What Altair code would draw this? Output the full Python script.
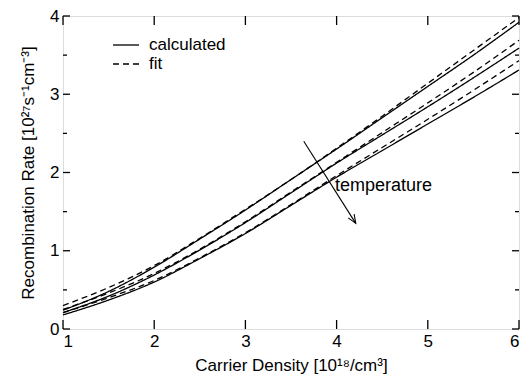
import altair as alt
import pandas as pd

# ---- data ----
x_vals = [1.0, 1.5, 2.0, 2.5, 3.0, 3.5, 4.0, 4.5, 5.0, 5.5, 6.0]
calc_low_t = [0.24, 0.48, 0.79, 1.15, 1.52, 1.91, 2.30, 2.70, 3.10, 3.50, 3.92]
calc_mid_t = [0.21, 0.42, 0.69, 1.01, 1.36, 1.74, 2.12, 2.48, 2.84, 3.21, 3.59]
calc_high_t = [0.18, 0.37, 0.60, 0.90, 1.22, 1.58, 1.94, 2.28, 2.62, 2.96, 3.31]
fit_low_t = [0.30, 0.53, 0.81, 1.16, 1.53, 1.91, 2.31, 2.72, 3.14, 3.56, 3.98]
fit_mid_t = [0.25, 0.46, 0.71, 1.02, 1.37, 1.75, 2.13, 2.51, 2.89, 3.28, 3.69]
fit_high_t = [0.21, 0.40, 0.62, 0.91, 1.23, 1.59, 1.96, 2.32, 2.68, 3.05, 3.43]

x_ticks = [1, 2, 3, 4, 5, 6]
y_ticks = [0, 1, 2, 3, 4]
y_minor = [0.5, 1.5, 2.5, 3.5]

arrow_x = [3.64, 4.21]
arrow_y = [2.40, 1.35]

rows = []
for name, ys, kind in [
    ("c1", calc_low_t, "calculated"),
    ("c2", calc_mid_t, "calculated"),
    ("c3", calc_high_t, "calculated"),
    ("f1", fit_low_t, "fit"),
    ("f2", fit_mid_t, "fit"),
    ("f3", fit_high_t, "fit"),
]:
    for xv, yv in zip(x_vals, ys):
        rows.append({"x": xv, "y": yv, "series": name, "kind": kind})
df = pd.DataFrame(rows)

W, H = 456, 313
FONT = "Liberation Sans"

xs = alt.Scale(domain=[1, 6], nice=False, zero=False)
ysc = alt.Scale(domain=[0, 4], nice=False, zero=False)

lines = alt.Chart(df).mark_line(color="black", strokeWidth=1.3, interpolate="monotone").encode(
    x=alt.X("x:Q", scale=xs, axis=alt.Axis(
        values=x_ticks, format="d", ticks=False, domain=False, grid=False,
        labelFontSize=17, labelPadding=4, labelFont=FONT, labelColor="black",
        title="Carrier Density [10¹⁸/cm³]", titleFont=FONT, titleFontSize=17,
        titleFontWeight="normal", titlePadding=8, titleColor="black")),
    y=alt.Y("y:Q", scale=ysc, axis=alt.Axis(
        values=y_ticks, format="d", ticks=False, domain=False, grid=False,
        labelFontSize=17, labelPadding=4, labelFont=FONT, labelColor="black",
        title="Recombination Rate [10²⁷s⁻¹cm⁻³]", titleFont=FONT, titleFontSize=17,
        titleFontWeight="normal", titlePadding=12, titleColor="black")),
    detail="series:N",
    strokeDash=alt.StrokeDash("kind:N", scale=alt.Scale(domain=["calculated", "fit"], range=[[1, 0], [6, 4]]), legend=None),
)

xt = pd.DataFrame({"v": x_ticks})
yt = pd.DataFrame({"v": y_ticks})
ym = pd.DataFrame({"v": y_minor})

tick_style = dict(color="black", strokeWidth=1.3)
ticks = [
    alt.Chart(xt).mark_rule(**tick_style).encode(x=alt.X("v:Q", scale=xs), y=alt.value(H - 9), y2=alt.value(H)),
    alt.Chart(xt).mark_rule(**tick_style).encode(x=alt.X("v:Q", scale=xs), y=alt.value(0), y2=alt.value(9)),
    alt.Chart(yt).mark_rule(**tick_style).encode(y=alt.Y("v:Q", scale=ysc), x=alt.value(0), x2=alt.value(7)),
    alt.Chart(yt).mark_rule(**tick_style).encode(y=alt.Y("v:Q", scale=ysc), x=alt.value(W - 7), x2=alt.value(W)),
    alt.Chart(ym).mark_rule(**tick_style).encode(y=alt.Y("v:Q", scale=ysc), x=alt.value(0), x2=alt.value(4)),
    alt.Chart(ym).mark_rule(**tick_style).encode(y=alt.Y("v:Q", scale=ysc), x=alt.value(W - 4), x2=alt.value(W)),
]

one = pd.DataFrame({"k": [0]})
legend = [
    alt.Chart(one).mark_rule(color="black", strokeWidth=1.3).encode(x=alt.value(50), x2=alt.value(76), y=alt.value(29)),
    alt.Chart(one).mark_rule(color="black", strokeWidth=1.3, strokeDash=[6, 4]).encode(x=alt.value(50), x2=alt.value(76), y=alt.value(48)),
    alt.Chart(one).mark_text(text="calculated", font=FONT, fontSize=17, align="left", baseline="middle").encode(x=alt.value(86), y=alt.value(29)),
    alt.Chart(one).mark_text(text="fit", font=FONT, fontSize=17, align="left", baseline="middle").encode(x=alt.value(86), y=alt.value(48)),
    alt.Chart(one).mark_text(text="temperature", font=FONT, fontSize=18, align="left", baseline="middle").encode(x=alt.value(272), y=alt.value(170)),
]

arr = pd.DataFrame({"x": [arrow_x[0]], "y": [arrow_y[0]], "x2": [arrow_x[1]], "y2": [arrow_y[1]]})
arrow_line = alt.Chart(arr).mark_rule(color="black", strokeWidth=1.1).encode(
    x=alt.X("x:Q", scale=xs), y=alt.Y("y:Q", scale=ysc), x2="x2:Q", y2="y2:Q")
arrow_head = alt.Chart(arr).mark_point(
    shape="M-0.4,1L0,0L0.4,1", size=300, angle=148, filled=False, color="black", strokeWidth=1.1, opacity=1
).encode(x=alt.X("x2:Q", scale=xs), y=alt.Y("y2:Q", scale=ysc))

chart = alt.layer(lines, *ticks, *legend, arrow_line, arrow_head).properties(
    width=W, height=H,
    autosize=alt.AutoSizeParams(type="none"),
    padding={"left": 55, "top": 8, "right": 5, "bottom": 48},
).configure_view(stroke="black", strokeWidth=1.5).configure(background="white")

chart.save("out.html", embed_options={"renderer": "svg", "actions": False})
